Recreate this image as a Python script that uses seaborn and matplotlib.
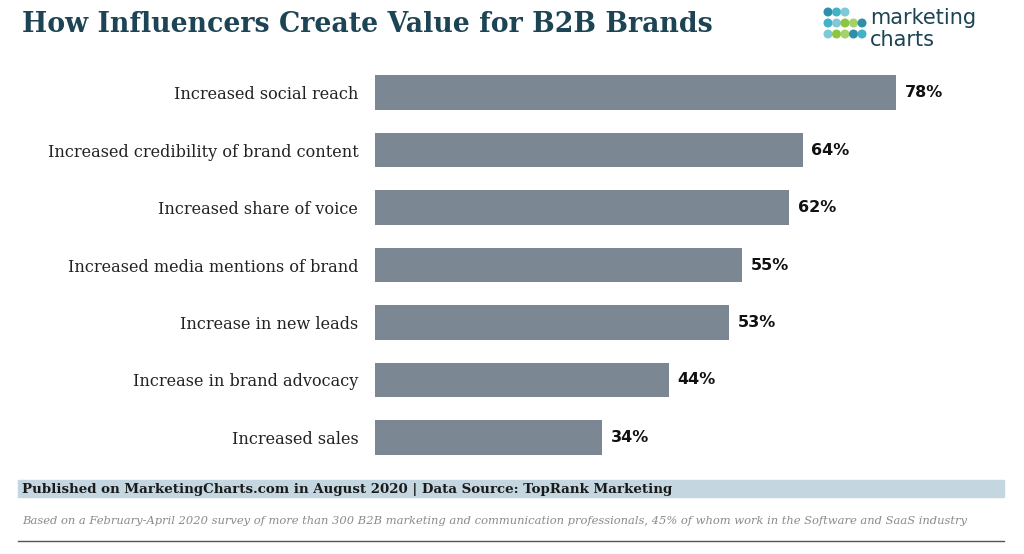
import matplotlib
matplotlib.use("Agg")
import matplotlib.pyplot as plt
import seaborn as sns
import pandas as pd
from matplotlib.patches import Rectangle
from matplotlib.lines import Line2D

categories = ["Increased social reach", "Increased credibility of brand content",
              "Increased share of voice", "Increased media mentions of brand",
              "Increase in new leads", "Increase in brand advocacy", "Increased sales"]
values = [78, 64, 62, 55, 53, 44, 34]
labels = [f"{v}%" for v in values]

df = pd.DataFrame({"cat": categories, "val": values})
W, H = 1024, 554
fig = plt.figure(figsize=(W/100, H/100), dpi=100)
ax = fig.add_axes([375/W, 1-466/H, 625/W, (466-64)/H])
sns.barplot(data=df, x="val", y="cat", color="#7b8894", saturation=1, width=0.6, ax=ax)
ax.set_xlim(0, 625/6.68)
ax.set_ylim(6.5, -0.5)
for i, (v, l) in enumerate(zip(values, labels)):
    ax.text(v + 1.3, i, l, va="center", ha="left", fontsize=11.5, fontweight="bold", color="#111")
ax.set_xlabel(""); ax.set_ylabel("")
ax.set_xticks([])
ax.tick_params(axis="y", length=0, pad=12, labelsize=11.6)
for t in ax.get_yticklabels():
    t.set_fontfamily("DejaVu Serif"); t.set_color("#222")
for s in ax.spines.values():
    s.set_visible(False)

fig.text(22/W, 1-24/H, "How Influencers Create Value for B2B Brands", fontsize=19.3,
         fontweight="bold", family="DejaVu Serif", color="#1d4454", va="center")
# logo
cols = ["#2f8fa8", "#43b1c8", "#7fc8d8", "#8cc63f", "#a6d16a"]
lx, ly, lc = [], [], []
for c in range(5):
    for r in range(3):
        if c >= 3 and r == 0:
            continue
        lx.append((828+c*8.5)/W); ly.append(1-(12+r*11)/H); lc.append(cols[(c+r) % 5])
fig.add_artist(plt.scatter(lx, ly, s=30, c=lc, transform=fig.transFigure, figure=fig)) if False else None
sc = ax.scatter(lx, ly, s=30, c=lc, transform=fig.transFigure, clip_on=False)
fig.text(870/W, 1-18/H, "marketing", fontsize=15, color="#1d4454", va="center")
fig.text(870/W, 1-40/H, "charts", fontsize=15, color="#1d4454", va="center")

fig.patches.append(Rectangle((18/W, 1-497/H), 986/W, 17/H, transform=fig.transFigure,
                             color="#c4d6e0", zorder=0))
fig.text(22/W, 1-489/H, "Published on MarketingCharts.com in August 2020 | Data Source: TopRank Marketing",
         fontsize=9.6, fontweight="bold", family="DejaVu Serif", color="#1a1a1a", va="center")
fig.text(22/W, 1-521/H, "Based on a February-April 2020 survey of more than 300 B2B marketing and communication professionals, 45% of whom work in the Software and SaaS industry",
         fontsize=8.25, style="italic", family="DejaVu Serif", color="#8a8a8a", va="center")
fig.lines.append(Line2D([18/W, 1004/W], [1-541/H]*2, transform=fig.transFigure, color="#555", lw=1))
fig.savefig("out.png", dpi=100)
